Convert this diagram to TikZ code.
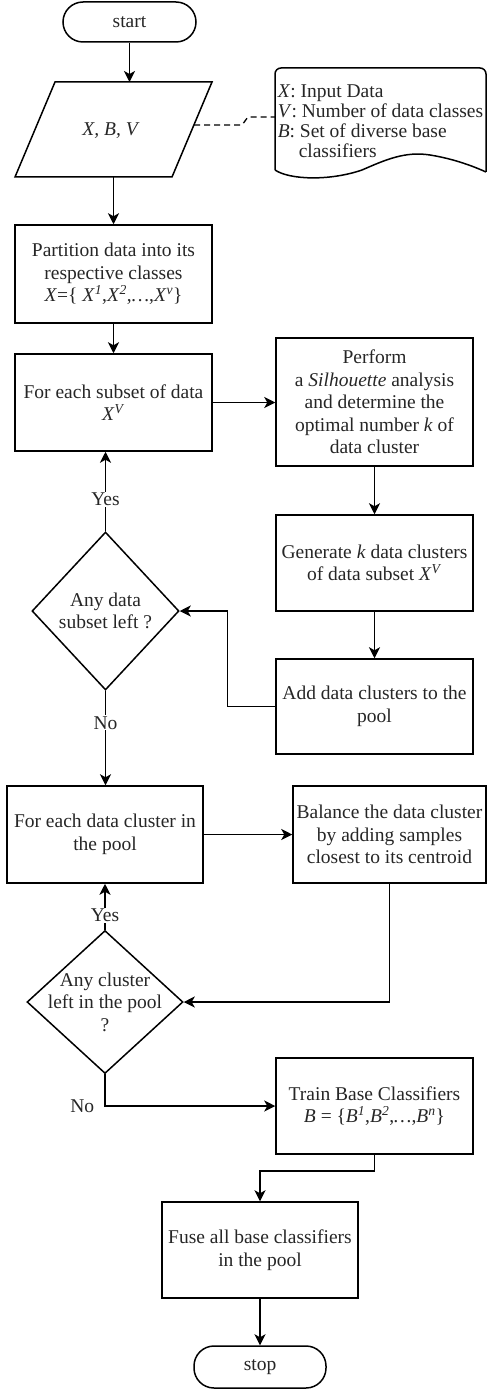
\documentclass[tikz,border=0pt]{standalone}
\usepackage{fontspec}
\setmainfont{Liberation Serif}
\usetikzlibrary{arrows.meta,shapes.geometric,calc}
\begin{document}
\begin{tikzpicture}[x=1pt,y=-1pt,
  line width=1.5pt,
  every node/.style={font=\fontsize{19.5}{22.5}\selectfont, text=black!85},
  box/.style={draw, rectangle, align=center, inner sep=0pt},
  term/.style={draw, rectangle, rounded corners=20pt, inner sep=0pt, minimum width=133pt, minimum height=40pt},
  dia/.style={draw, diamond, inner sep=0pt},
  txt/.style={align=center, inner sep=0pt},
  arr/.style={-{Stealth[length=11pt,width=11pt,inset=3pt]}},
  lbl/.style={fill=white, inner sep=1pt}
]
\useasboundingbox (0,0) rectangle (487,1391);

% terminals
\node[term] (start) at (129.5,22) {start};
\node[term, minimum width=132pt, minimum height=42pt] (stop) at (260,1367) {stop};

% input parallelogram
\draw (55,82) -- (212,82) -- (172,177) -- (15,177) -- cycle;
\node[txt] (in) at (111,131) {\textit{X, B, V}};
\coordinate (inTop) at (129.5,82);
\coordinate (inBot) at (113.5,177);
\coordinate (inR) at (194,125);

% note
\draw[rounded corners=6pt] (275,170) -- (275,68) -- (486,68) -- (486,172);
\draw (275,170) .. controls (290,180) and (330,181) .. (362,170)
      .. controls (385,160) and (405,151) .. (430,155)
      .. controls (455,159) and (475,167) .. (486,172);
\node[anchor=north west, align=left, inner sep=0pt, font=\fontsize{19.5}{20}\selectfont] (note) at (277,84)
  {\textit{X}: Input Data\\
   \textit{V}: Number of data classes\\
   \textit{B}: Set of diverse base\\
   \hspace*{21pt}classifiers};
\coordinate (noteL) at (275,117);
\draw[dashed, dash pattern=on 6pt off 4pt, line width=1.3pt] (inR) -- (240,125) .. controls (245,125) and (245,117) .. (250,117) -- (noteL);

% process boxes
\node[box, minimum width=197pt, minimum height=98pt] (b1) at (113.5,274)
  {Partition data into its\\respective classes\\\textit{X}=\{ \textit{X}\textsuperscript{\textit{1}},\textit{X}\textsuperscript{\textit{2}},\textit{\dots},\textit{X}\textsuperscript{\textit{v}}\}};
\node[box, minimum width=197pt, minimum height=97pt] (b2) at (113.5,402.5)
  {For each subset of data\\\textit{X}\textsuperscript{\textit{V}}};
\node[box, minimum width=197pt, minimum height=128pt] (b3) at (374.5,402)
  {Perform\\a \textit{Silhouette} analysis\\and determine the\\optimal number \textit{k} of\\data cluster};
\node[box, minimum width=197pt, minimum height=96pt] (b4) at (374.5,563)
  {Generate \textit{k} data clusters\\of data subset \textit{X}\textsuperscript{\textit{V}}};
\node[box, minimum width=197pt, minimum height=95pt] (b5) at (374.5,706.5)
  {Add data clusters to the\\pool};
\node[box, minimum width=196pt, minimum height=97pt] (b6) at (105,834.5)
  {For each data cluster in\\the pool};
\node[box, minimum width=193pt, minimum height=97pt] (b7) at (389.5,834.5)
  {Balance the data cluster\\by adding samples\\closest to its centroid};
\node[box, minimum width=197pt, minimum height=96pt] (b8) at (374.5,1106)
  {Train Base Classifiers\\\textit{B} = \{\textit{B}\textsuperscript{\textit{1}},\textit{B}\textsuperscript{\textit{2}},\textit{\dots},\textit{B}\textsuperscript{\textit{n}}\}};
\node[box, minimum width=196pt, minimum height=96pt] (b9) at (260,1250)
  {Fuse all base classifiers\\in the pool};

% decisions
\node[dia, minimum width=147pt, minimum height=158pt] (d1) at (105.5,611) {};
\node[txt] (d1t) at (d1.center) {Any data\\subset left ?};
\node[dia, minimum width=156pt, minimum height=143pt] (d2) at (105,1002) {};
\node[txt] (d2t) at (d2.center) {Any cluster\\left in the pool\\?};

% connectors
\draw[arr] (start.south) -- (inTop);
\draw[arr] (inBot) -- (b1.north);
\draw[arr] (b1.south) -- (b2.north);
\draw[arr] (b2.east) -- (b2.east -| b3.west);
\draw[arr] (b3.south) -- (b4.north);
\draw[arr] (b4.south) -- (b5.north);
\draw[arr] (b5.west) -- ++(-48,0) |- (d1.east);
\draw[arr] (d1.north) -- (d1.north |- b2.south) node[lbl, pos=0.4] {Yes};
\draw[arr] (d1.south) -- (d1.south |- b6.north) node[lbl, pos=0.34] {No};
\draw[arr] (b6.east) -- (b6.east -| b7.west);
\draw[arr] (d2.north) -- (d2.north |- b6.south) node[lbl, pos=0.32] {Yes};
\draw[arr] (b7.south) |- (d2.east);
\draw[arr] (d2.south) |- (b8.west) node[pos=0.5, anchor=east, inner sep=0pt, xshift=-10pt] {No};
\draw[arr] (b8.south) -- ++(0,16) -| (b9.north);
\draw[arr] (b9.south) -- (stop.north);
\end{tikzpicture}
\end{document}
